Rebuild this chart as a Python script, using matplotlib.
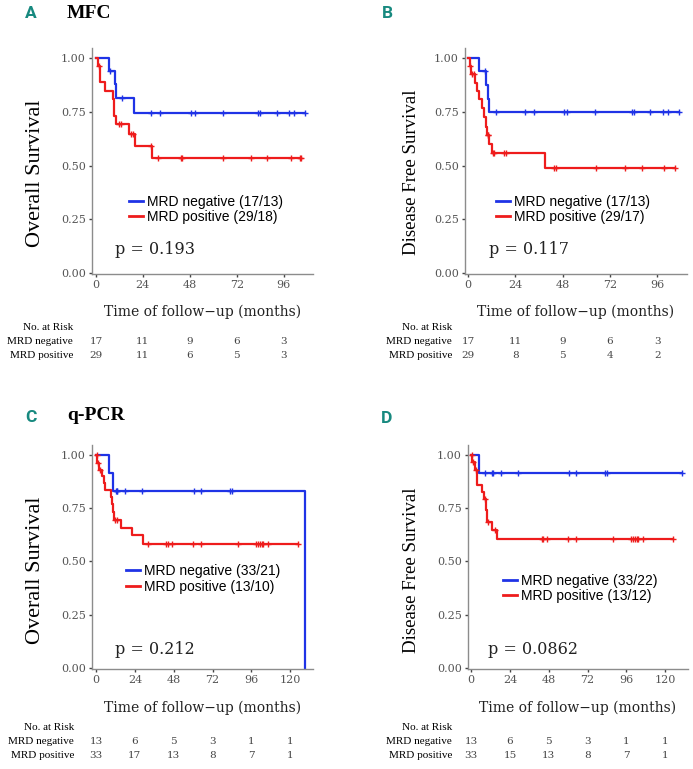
import matplotlib.pyplot as plt
import matplotlib.transforms as mtransforms
import numpy as np

# ---- data (months / survival probability) ----
# panel A: MFC, overall survival
a_neg_events = [6.7, 9.6, 10.4, 19.3]
a_neg_levels = [0.941, 0.878, 0.815, 0.747]
a_neg_censor = [7.4, 13.5, 28.4, 32.7, 48.5, 50.5, 64.8, 83.1, 84.0, 92.5, 98.8, 101.5, 107.0]
a_pos_events = [1.2, 2.0, 4.6, 8.6, 9.3, 10.3, 16.8, 19.9, 28.8]
a_pos_levels = [0.962, 0.891, 0.848, 0.809, 0.731, 0.695, 0.647, 0.593, 0.533]
a_pos_censor = [1.6, 12.0, 12.8, 17.8, 19.1, 28.0, 31.9, 43.6, 43.9, 64.8, 79.3, 87.5, 99.5, 104.1, 105.0]

# panel B: MFC, disease free survival
b_neg_events = [5.4, 9.3, 10.2, 10.8]
b_neg_levels = [0.941, 0.876, 0.812, 0.749]
b_neg_censor = [8.8, 14.4, 29.1, 33.4, 48.5, 50.3, 64.6, 82.9, 84.1, 92.5, 98.8, 101.5, 107.0]
b_pos_events = [0.8, 1.6, 3.6, 4.4, 5.7, 6.9, 8.1, 9.0, 9.5, 10.8, 12.0, 39.1]
b_pos_levels = [0.964, 0.927, 0.886, 0.849, 0.809, 0.767, 0.725, 0.681, 0.642, 0.600, 0.557, 0.487]
b_pos_censor = [1.2, 2.2, 3.0, 10.0, 10.4, 12.5, 13.2, 18.4, 19.4, 43.8, 44.7, 65.0, 79.7, 88.2, 99.1, 105.1]

# panel C: q-PCR, overall survival
c_neg_events = [8.2, 10.7, 129.0]
c_neg_levels = [0.917, 0.833, 0.0]
c_neg_censor = [12.6, 12.9, 13.2, 17.9, 28.6, 60.5, 64.8, 82.7, 83.8]
c_pos_events = [0.8, 1.9, 3.7, 4.9, 5.7, 9.4, 9.8, 10.3, 10.9, 15.6, 22.4, 28.8]
c_pos_levels = [0.965, 0.931, 0.900, 0.867, 0.836, 0.802, 0.771, 0.732, 0.693, 0.659, 0.623, 0.584]
c_pos_censor = [0.3, 1.2, 2.5, 11.7, 13.1, 32.3, 43.2, 44.3, 46.7, 60.1, 64.6, 87.8, 98.6, 99.8,
                101.2, 102.3, 103.3, 106.4, 124.9]

# panel D: q-PCR, disease free survival
d_neg_events = [4.9]
d_neg_levels = [0.917]
d_neg_censor = [8.6, 12.8, 13.4, 18.3, 28.8, 60.5, 64.8, 82.7, 83.8, 130.0]
d_pos_events = [0.8, 2.2, 3.8, 6.8, 8.0, 9.0, 9.8, 13.0, 16.0]
d_pos_levels = [0.967, 0.930, 0.862, 0.827, 0.792, 0.743, 0.686, 0.650, 0.607]
d_pos_censor = [0.3, 1.4, 2.8, 8.5, 10.7, 14.6, 43.6, 44.3, 46.7, 60.1, 64.6, 87.8, 98.6, 99.8,
                101.2, 102.3, 103.3, 106.4, 124.9]

labels_a = ['MRD negative (17/13)', 'MRD positive (29/18)']
labels_b = ['MRD negative (17/13)', 'MRD positive (29/17)']
labels_c = ['MRD negative (33/21)', 'MRD positive (13/10)']
labels_d = ['MRD negative (33/22)', 'MRD positive (13/12)']
pvals = ['p = 0.193', 'p = 0.117', 'p = 0.212', 'p = 0.0862']

risk_times_ab = [0, 24, 48, 72, 96]
risk_times_cd = [0, 24, 48, 72, 96, 120]
risk_a = [[17, 11, 9, 6, 3], [29, 11, 6, 5, 3]]
risk_b = [[17, 11, 9, 6, 3], [29, 8, 5, 4, 2]]
risk_c = [[13, 6, 5, 3, 1, 1], [33, 17, 13, 8, 7, 1]]
risk_d = [[13, 6, 5, 3, 1, 1], [33, 15, 13, 8, 7, 1]]

BLUE = '#1f33e6'
RED = '#ee1c1c'
TEAL = '#17897f'
W, H = 693, 769

fig = plt.figure(figsize=(W / 100, H / 100), dpi=100)


def px_axes(left, top, right, bottom):
    return fig.add_axes([left / W, 1 - bottom / H, (right - left) / W, (bottom - top) / H])


def level_at(events, levels, t):
    i = np.searchsorted(events, t, side='right')
    return 1.0 if i == 0 else levels[i - 1]


def km_curve(ax, events, levels, censor, color):
    end = max(max(events), max(censor))
    xs = [0] + list(events) + [end]
    ys = [1.0] + list(levels) + [levels[-1]]
    line, = ax.plot(xs, ys, drawstyle='steps-post', color=color, lw=1.6)
    cy = [level_at(events, levels, t) for t in censor]
    ax.plot(censor, cy, ls='none', marker='+', ms=5, mew=1.0, color=color)
    return line


def panel(box, xmax, xticks, neg, pos, labels, leg_xy, ptxt, p_xy, ylabel, ylab_xy, ylab_size,
          xlab_y, risk_times, risk, risk_y, risk_right):
    ax = px_axes(*box)
    h1 = km_curve(ax, *neg, BLUE)
    h2 = km_curve(ax, *pos, RED)
    ax.set_xlim(xmax[0], xmax[1])
    ax.set_ylim(-0.006, 1.048)
    ax.set_xticks(xticks)
    ax.set_yticks([0, 0.25, 0.5, 0.75, 1.0])
    ax.set_yticklabels(['0.00', '0.25', '0.50', '0.75', '1.00'])
    for s in ['top', 'right']:
        ax.spines[s].set_visible(False)
    for s in ['left', 'bottom']:
        ax.spines[s].set_color('#8c8c8c')
        ax.spines[s].set_linewidth(1.0)
    ax.tick_params(length=2.5, width=1, color='#444444', labelsize=8, labelcolor='#555555', pad=2)
    for lab in ax.get_xticklabels() + ax.get_yticklabels():
        lab.set_family('DejaVu Serif')

    leg = ax.legend([h1, h2], labels, loc='center left',
                    bbox_to_anchor=(leg_xy[0] / W, 1 - leg_xy[1] / H), bbox_transform=fig.transFigure,
                    frameon=False, prop={'family': 'Liberation Sans', 'size': 10},
                    handlelength=1.0, handletextpad=0.3, labelspacing=0.1, borderpad=0, borderaxespad=0)
    for ln in leg.get_lines():
        ln.set_linewidth(2)

    fig.text(p_xy[0] / W, 1 - p_xy[1] / H, ptxt, family='DejaVu Serif', fontsize=11.5,
             color='#222222', va='center', ha='left')
    fig.text(ylab_xy[0] / W, 1 - ylab_xy[1] / H, ylabel, family='Liberation Serif',
             fontsize=ylab_size, rotation=90, va='center', ha='center')
    fig.text(((box[0] + box[2]) / 2) / W, 1 - xlab_y / H, 'Time of follow\u2212up (months)',
             family='DejaVu Serif', fontsize=10, color='#222222', va='center', ha='center')

    rows = ['No. at Risk', 'MRD negative', 'MRD positive']
    for r, yy in zip(rows, risk_y):
        fig.text(risk_right / W, 1 - yy / H, r, family='Liberation Serif', fontsize=8,
                 ha='right', va='center')
    trans = mtransforms.blended_transform_factory(ax.transData, fig.transFigure)
    for vals, yy in zip(risk, risk_y[1:]):
        for t, v in zip(risk_times, vals):
            ax.text(t, 1 - yy / H, str(v), transform=trans, family='DejaVu Serif', fontsize=7.5,
                    color='#444444', ha='center', va='center', clip_on=False)
    return ax


panel((92, 48, 313, 274), (-2, 111), [0, 24, 48, 72, 96],
      (a_neg_events, a_neg_levels, a_neg_censor), (a_pos_events, a_pos_levels, a_pos_censor),
      labels_a, (129, 209.5), pvals[0], (115, 250), 'Overall Survival', (36, 173), 16,
      312, risk_times_ab, risk_a, (327, 342, 355), 73)

panel((465, 48, 687, 274), (-1.5, 111), [0, 24, 48, 72, 96],
      (b_neg_events, b_neg_levels, b_neg_censor), (b_pos_events, b_pos_levels, b_pos_censor),
      labels_b, (496, 209.5), pvals[1], (489, 250), 'Disease Free Survival', (412, 172), 13.6,
      312, risk_times_ab, risk_b, (327, 342, 355), 452)

panel((92, 445, 313, 669), (-2.5, 134), [0, 24, 48, 72, 96, 120],
      (c_neg_events, c_neg_levels, c_neg_censor), (c_pos_events, c_pos_levels, c_pos_censor),
      labels_c, (126, 579), pvals[2], (115, 649), 'Overall Survival', (36, 570), 16,
      708, risk_times_cd, risk_c, (727, 741, 755), 74)

panel((468, 445, 688, 669), (-1.9, 134), [0, 24, 48, 72, 96, 120],
      (d_neg_events, d_neg_levels, d_neg_censor), (d_pos_events, d_pos_levels, d_pos_censor),
      labels_d, (503, 588.5), pvals[3], (488, 649), 'Disease Free Survival', (412, 570), 13.6,
      708, risk_times_cd, risk_d, (727, 741, 755), 452)

# panel letters and titles
for letter, x, y in [('A', 31, 13), ('B', 387, 13), ('C', 31, 418), ('D', 387, 419)]:
    fig.text(x / W, 1 - y / H, letter, family='Roboto', weight='bold', fontsize=12.5,
             color=TEAL, ha='center', va='center')
fig.text(67 / W, 1 - 13 / H, 'MFC', family='Liberation Serif', weight='bold', fontsize=14,
         ha='left', va='center')
fig.text(67 / W, 1 - 415 / H, 'q-PCR', family='Liberation Serif', weight='bold', fontsize=14,
         ha='left', va='center')

fig.savefig('out.png', dpi=100)
